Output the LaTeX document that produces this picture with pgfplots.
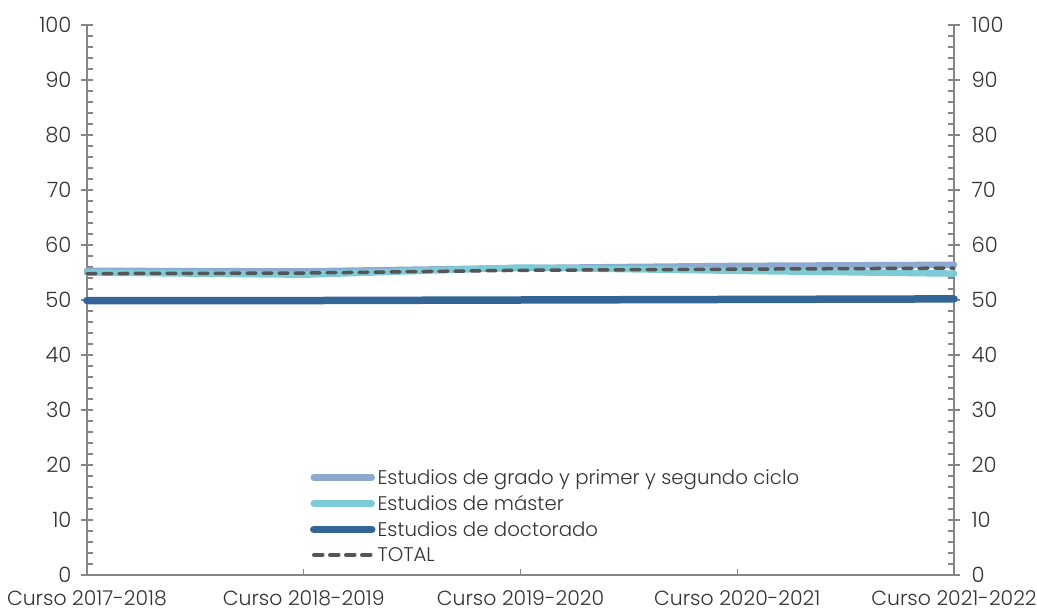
\documentclass[border=0pt]{standalone}
\usepackage{fontspec}
\setmainfont{Poppins Light}
\usepackage{pgfplots}
\pgfplotsset{compat=1.18}
\usetikzlibrary{calc}
\definecolor{cgrado}{HTML}{8EA9D0}
\definecolor{cmaster}{HTML}{7ECBD8}
\definecolor{cdoc}{HTML}{346597}
\definecolor{ctotal}{HTML}{555555}
\definecolor{caxis}{HTML}{868686}
\definecolor{ctext}{HTML}{333333}
\begin{document}
\begin{tikzpicture}
\pgfplotsset{
  base/.style={
    scale only axis, width=867bp, height=550bp,
    xmin=0, xmax=4, ymin=0, ymax=100,
    /pgf/number format/assume math mode=true,
    tick label style={font=\fontsize{21.2}{24}\selectfont, text=ctext},
    axis line style={caxis, line width=1.2bp, -},
    every tick/.style={caxis, line width=1.2bp},
  },
  yax/.style={
    base, axis x line=none,
    ytick={0,10,...,100}, minor y tick num=4,
    tick align=center, major tick length=12bp, minor tick length=6bp,
    xtick=\empty,
  }
}
% left y axis
\begin{axis}[yax, axis y line*=left,
  minor tick style={xshift=3bp},
  yticklabel style={xshift=-6bp}]
\end{axis}
% right y axis
\begin{axis}[yax, axis y line*=right,
  minor tick style={xshift=-3bp},
  yticklabel style={xshift=8bp}]
\end{axis}
% main axis with data
\begin{axis}[base, name=ax, axis x line*=bottom, axis y line=none,
  clip=false,
  xtick={0,1,2,3,4},
  xticklabels={Curso 2017-2018, Curso 2018-2019, Curso 2019-2020, Curso 2020-2021, Curso 2021-2022},
  tick align=inside, major tick length=6bp,
  xticklabel style={yshift=-12.5bp, font=\fontsize{20.5}{23}\selectfont},
  ytick=\empty,
  legend cell align=left,
  legend style={at={(0.257,0.196)}, anchor=north west, draw=none, fill=none,
    font=\fontsize{19.8}{23}\selectfont, text=ctext,
    row sep=5.5bp, inner sep=0pt,
    /tikz/every even column/.append style={column sep=0pt}},
  legend image code/.code={\draw[#1] (0bp,0bp) -- (58bp,0bp);},
]
\addplot[cgrado, line width=6.5bp, line cap=round] coordinates {(0,55.3) (1,55.2) (2,55.8) (3,56.2) (4,56.4)};
\addlegendentry{Estudios de grado y primer y segundo ciclo}
\addplot[cmaster, line width=6.5bp, line cap=round] coordinates {(0,55.0) (1,54.6) (2,55.9) (3,55.3) (4,54.8)};
\addlegendentry{Estudios de máster}
\addplot[cdoc, line width=7.5bp, line cap=round] coordinates {(0,49.9) (1,49.9) (2,50.0) (3,50.1) (4,50.2)};
\addlegendentry{Estudios de doctorado}
\addplot[ctotal, line width=3.5bp, line cap=round, dash pattern=on 9bp off 7bp] coordinates {(0,54.8) (1,54.9) (2,55.4) (3,55.6) (4,55.8)};
\addlegendentry{TOTAL}
\end{axis}
\pgfresetboundingbox
\path[use as bounding box] ($(ax.south west)+(-87bp,-37bp)$) rectangle ($(ax.north east)+(83bp,25bp)$);
\end{tikzpicture}
\end{document}
